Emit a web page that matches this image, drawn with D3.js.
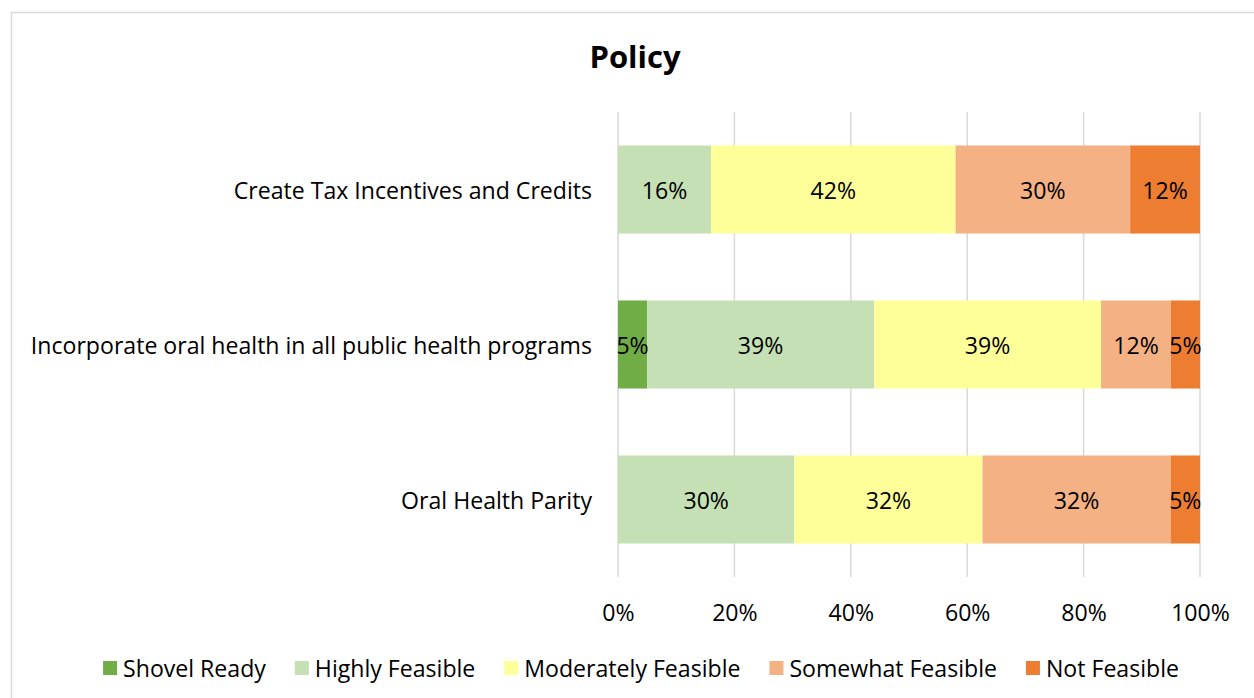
<!DOCTYPE html>
<html>
<head>
<meta charset="utf-8">
<script src="https://cdn.jsdelivr.net/npm/d3@7"></script>
<style>
  html, body { margin: 0; padding: 0; background: #fff; }
  svg { display: block; }
  text { font-family: "Open Sans", "Liberation Sans", sans-serif; fill: #000; }
</style>
</head>
<body>
<svg id="chart" width="1254" height="698"></svg>
<script>
// Survey responses: share of respondents per feasibility rating (percent)
const categories = [
  "Create Tax Incentives and Credits",
  "Incorporate oral health in all public health programs",
  "Oral Health Parity"
];
const seriesNames = ["Shovel Ready", "Highly Feasible", "Moderately Feasible", "Somewhat Feasible", "Not Feasible"];
const shovelReady        = [0, 5, 0];
const highlyFeasible     = [16, 39, 30];
const moderatelyFeasible = [42, 39, 32];
const somewhatFeasible   = [30, 12, 32];
const notFeasible        = [12, 5, 5];
const tickLabels = ["0%", "20%", "40%", "60%", "80%", "100%"];
const seriesColors = ["#70AD47", "#C5E0B4", "#FFFF99", "#F4B183", "#ED7D31"];

const seriesValues = [shovelReady, highlyFeasible, moderatelyFeasible, somewhatFeasible, notFeasible];

// One row per category, normalised so each bar spans 100%
const rows = categories.map((c, i) => {
  const row = { category: c };
  seriesNames.forEach((s, k) => { row[s] = seriesValues[k][i]; });
  return row;
});

const svg = d3.select("#chart");
const FONT = "23.1px";

// Chart frame (top and left edges visible)
svg.append("rect")
  .attr("x", 11.5).attr("y", 12.5)
  .attr("width", 1300).attr("height", 800)
  .attr("fill", "none").attr("stroke", "#D9D9D9").attr("stroke-width", 1.5);

// Title
svg.append("text")
  .attr("x", 635).attr("y", 56)
  .attr("text-anchor", "middle").attr("dominant-baseline", "central")
  .style("font-size", "31px").style("font-weight", "bold")
  .text("Policy");

const plotLeft = 618, plotRight = 1200, plotTop = 112, plotBottom = 577;

const x = d3.scaleLinear().domain([0, 1]).range([plotLeft, plotRight]);
const y = d3.scaleBand().domain(categories).range([plotTop, plotBottom])
  .paddingInner(0.432).paddingOuter(0.216);

// Vertical gridlines
const ticks = d3.range(0, 1.0001, 0.2);
svg.append("g").selectAll("line").data(ticks).join("line")
  .attr("x1", d => x(d)).attr("x2", d => x(d))
  .attr("y1", plotTop).attr("y2", plotBottom)
  .attr("stroke", "#D9D9D9").attr("stroke-width", 1.5);

// X axis tick labels
const xAxis = d3.axisBottom(x).tickValues(ticks)
  .tickFormat((d, i) => tickLabels[i]).tickSize(0).tickPadding(0);
const gx = svg.append("g").attr("transform", `translate(0,${612})`).call(xAxis);
gx.select(".domain").remove();
gx.selectAll("text")
  .attr("dy", null).attr("y", 0)
  .attr("dominant-baseline", "central")
  .style("font-size", FONT).style("font-family", '"Open Sans", sans-serif').attr("fill", "#000");

// Category labels
const yAxis = d3.axisLeft(y).tickSize(0).tickPadding(0);
const gy = svg.append("g").attr("transform", `translate(${592},0)`).call(yAxis);
gy.select(".domain").remove();
gy.selectAll("text")
  .attr("dy", null).attr("x", 0)
  .attr("dominant-baseline", "central")
  .style("font-size", FONT).style("font-family", '"Open Sans", sans-serif').attr("fill", "#000");

// Stacked, normalised bars
const stack = d3.stack().keys(seriesNames).offset(d3.stackOffsetExpand);
const layers = stack(rows);

const gBars = svg.append("g");
layers.forEach((layer, k) => {
  const g = gBars.append("g").attr("fill", seriesColors[k]);
  g.selectAll("rect").data(layer.filter(d => d[1] - d[0] > 0)).join("rect")
    .attr("x", d => x(d[0]))
    .attr("y", d => y(d.data.category))
    .attr("width", d => x(d[1]) - x(d[0]))
    .attr("height", y.bandwidth());
});

// Data labels
layers.forEach((layer, k) => {
  svg.append("g").selectAll("text")
    .data(layer.filter(d => d.data[layer.key] > 0)).join("text")
    .attr("x", d => (x(d[0]) + x(d[1])) / 2)
    .attr("y", d => y(d.data.category) + y.bandwidth() / 2)
    .attr("text-anchor", "middle").attr("dominant-baseline", "central")
    .style("font-size", FONT)
    .text(d => d.data[layer.key] + "%");
});

// Legend, centred beneath the plot
const legend = svg.append("g");
const items = legend.selectAll("g").data(seriesNames).join("g");
items.append("rect").attr("width", 14).attr("height", 14)
  .attr("y", -7).attr("fill", (d, i) => seriesColors[i]);
items.append("text").attr("x", 20).attr("dominant-baseline", "central")
  .style("font-size", FONT).text(d => d);
const widths = items.nodes().map(n => 20 + d3.select(n).select("text").node().getComputedTextLength());
const gap = 29;
const total = d3.sum(widths) + gap * (widths.length - 1);
let cursor = 641 - total / 2;
items.each(function (d, i) {
  d3.select(this).attr("transform", `translate(${cursor},668)`);
  cursor += widths[i] + gap;
});
</script>
</body>
</html>
